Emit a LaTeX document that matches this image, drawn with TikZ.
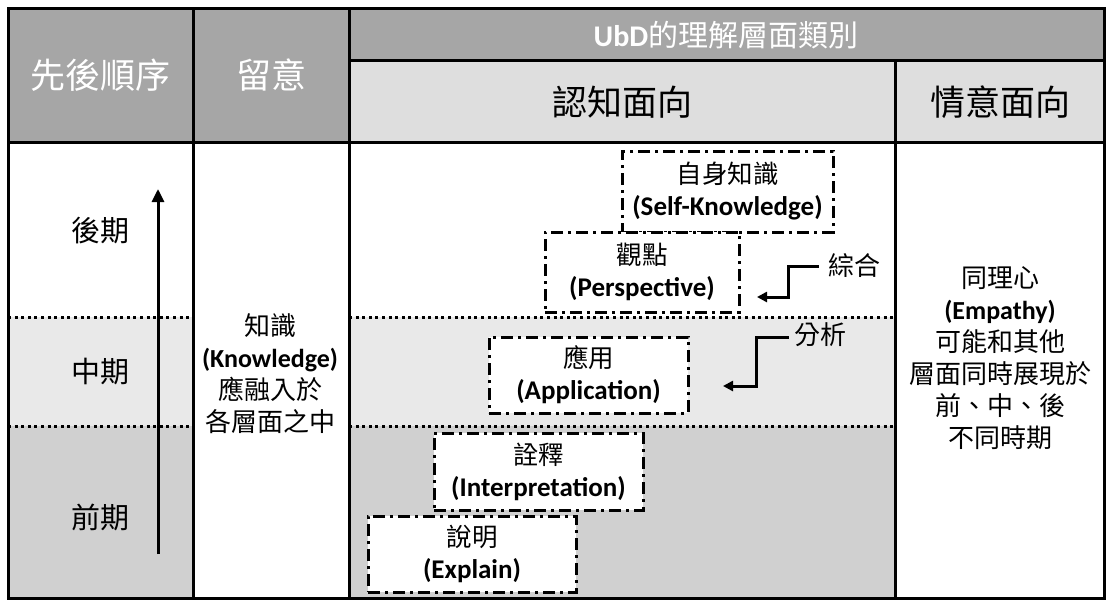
\documentclass[tikz,border=0pt]{standalone}
\usepackage{fontspec}
\setmainfont{Carlito}
\newfontfamily\cjk{Noto Sans CJK TC}
\usetikzlibrary{arrows.meta,calc}
\definecolor{hdr}{RGB}{166,166,166}
\definecolor{subhdr}{RGB}{222,222,222}
\definecolor{midband}{RGB}{233,233,233}
\definecolor{lowband}{RGB}{208,208,208}
\begin{document}
\begin{tikzpicture}[x=1pt,y=-1pt,
  gridline/.style={line width=3pt},
  dotline/.style={line width=3pt, dash pattern=on 3pt off 3.6pt},
  stagebox/.style={draw, line width=3pt, dash pattern=on 12pt off 5pt on 3pt off 5pt,
    fill=white, inner sep=0pt, align=center, font=\fontsize{27}{32}\selectfont},
  conn/.style={line width=3pt, -{Triangle[length=10pt,width=10pt]}},
  timearrow/.style={line width=3pt, -{Triangle[length=13pt,width=12pt]}},
  hdrtext/.style={inner sep=0pt, font=\fontsize{35}{40}\selectfont\cjk},
  periodtext/.style={inner sep=0pt, font=\fontsize{29}{34}\selectfont\cjk},
  bodytext/.style={inner sep=0pt, align=center, font=\fontsize{26}{32}\selectfont},
  lbltext/.style={inner sep=0pt, font=\fontsize{26}{30}\selectfont\cjk}
]
\useasboundingbox (0,0) rectangle (1109,600);
\fill[white] (0,0) rectangle (1109,600);
% fills
\fill[hdr] (8,8) rectangle (349,142);
\fill[hdr] (349,8) rectangle (1104,60);
\fill[subhdr] (349,60) rectangle (1104,142);
\fill[midband] (8,317) rectangle (193,426);
\fill[lowband] (8,426) rectangle (193,598);
\fill[midband] (349,317) rectangle (895,426);
\fill[lowband] (349,426) rectangle (895,598);
% dotted separators
\draw[dotline] (8,317) -- (193,317);
\draw[dotline] (8,426) -- (193,426);
\draw[dotline] (349,317) -- (895,317);
\draw[dotline] (349,426) -- (895,426);
% grid
\draw[gridline] (8,8) rectangle (1104,598);
\draw[gridline] (193,8) -- (193,598);
\draw[gridline] (349,8) -- (349,598);
\draw[gridline] (895,60) -- (895,598);
\draw[gridline] (349,60) -- (1104,60);
\draw[gridline] (8,142) -- (1104,142);
% headers
\node[hdrtext, text=white] (hseq) at (100.5,75) {先後順序};
\node[hdrtext, text=white] (hnote) at (271,75) {留意};
\node[inner sep=0pt, text=white, font=\fontsize{30}{34}\selectfont] (hubd) at (726,35) {\bfseries UbD{\cjk\mdseries 的理解層面類別}};
\node[hdrtext] (hcog) at (622,102) {認知面向};
\node[hdrtext] (haff) at (1000,102) {情意面向};
% period column
\coordinate (abot) at (158,554);
\coordinate (atop) at (158,189);
\draw[timearrow] (abot) -- (atop);
\node[periodtext] (late) at (100,231) {後期};
\node[periodtext] (middle) at (100,372) {中期};
\node[periodtext] (early) at (100,517) {前期};
% knowledge column
\node[bodytext] (know) at (270,374) {{\cjk 知識}\\{\bfseries (Knowledge)}\\{\cjk 應融入於}\\{\cjk 各層面之中}};
% affective column
\node[bodytext] (emp) at (1000,358) {{\cjk 同理心}\\{\bfseries (Empathy)}\\{\cjk 可能和其他}\\{\cjk 層面同時展現於}\\{\cjk 前、中、後}\\{\cjk 不同時期}};
% stage boxes
\newcommand\cjkline[1]{{\fontsize{25.5}{32}\selectfont\cjk #1}}
\node[stagebox, minimum width=211pt, minimum height=81pt] (self) at (727.5,191.5) {\cjkline{自身知識}\\{\bfseries (Self-Knowledge)}};
\node[stagebox, minimum width=194pt, minimum height=80pt] (persp) at (642,272) {\cjkline{觀點}\\{\bfseries (Perspective)}};
\node[stagebox, minimum width=199pt, minimum height=76pt] (appl) at (588.5,375) {\cjkline{應用}\\{\bfseries (Application)}};
\node[stagebox, minimum width=209pt, minimum height=77pt] (interp) at (538.5,471.5) {\cjkline{詮釋}\\{\bfseries (Interpretation)}};
\node[stagebox, minimum width=208pt, minimum height=76pt] (expl) at (472,554) {\cjkline{說明}\\{\bfseries (Explain)}};
% side labels with connectors
\node[lbltext] (syn) at (854,266) {綜合};
\coordinate (synend) at (757,297);
\draw[conn] (syn.west) ++(-9,0) -- ++(-30,0) |- (synend);
\node[lbltext] (ana) at (820,335) {分析};
\coordinate (anaend) at (723,386);
\draw[conn] (ana.west) ++(-5,2) -- ++(-32,0) |- (anaend);
\end{tikzpicture}
\end{document}
